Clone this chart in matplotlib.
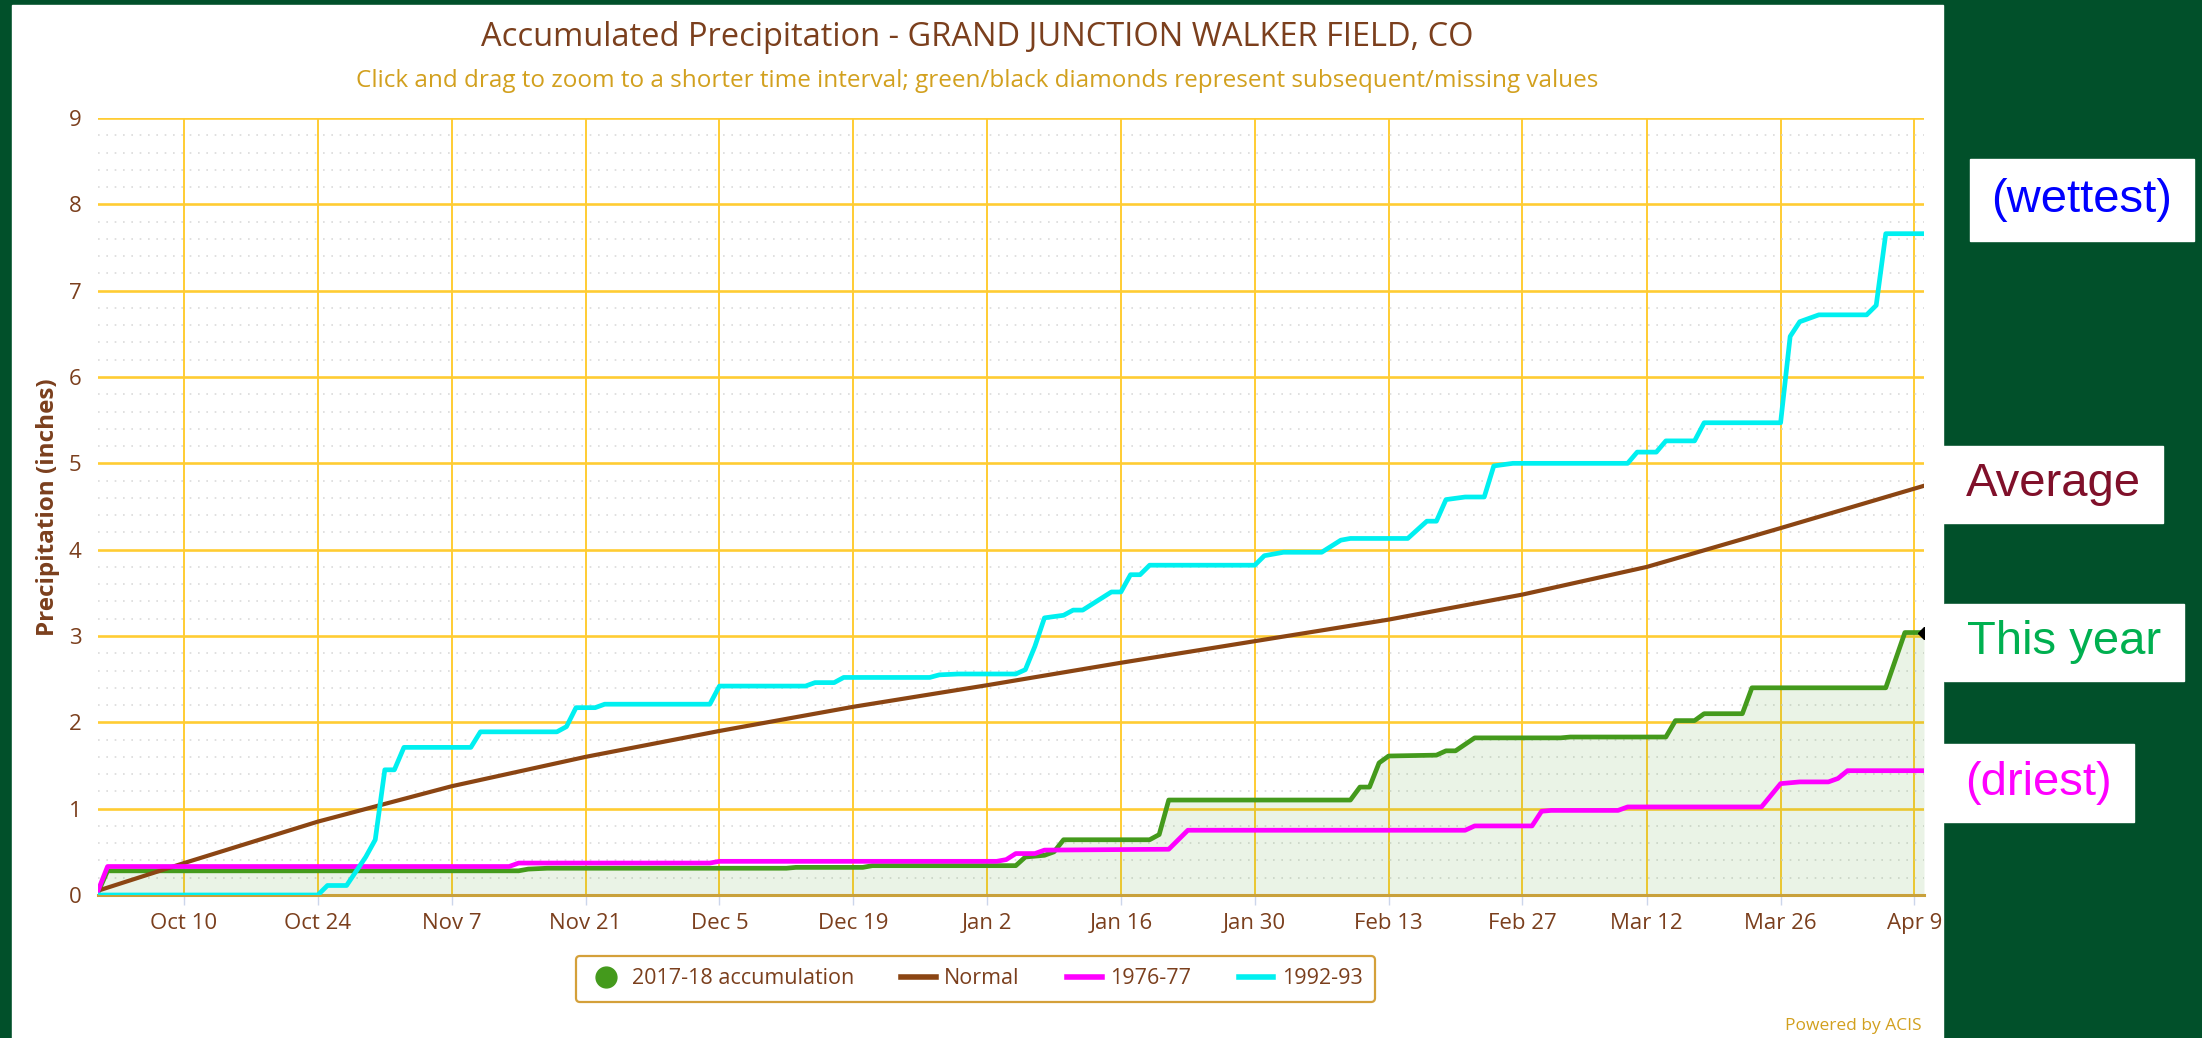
import numpy as np
import matplotlib
matplotlib.use('Agg')
import matplotlib.pyplot as plt
from matplotlib.lines import Line2D
from matplotlib.patches import Rectangle

W, H = 2202, 1038
plt.rcParams['font.family'] = 'Open Sans'

start = np.datetime64('2017-10-01')

tick_dates = ['2017-10-10', '2017-10-24', '2017-11-07', '2017-11-21', '2017-12-05',
              '2017-12-19', '2018-01-02', '2018-01-16', '2018-01-30', '2018-02-13',
              '2018-02-27', '2018-03-12', '2018-03-26', '2018-04-09']
tick_labels = ['Oct 10', 'Oct 24', 'Nov 7', 'Nov 21', 'Dec 5', 'Dec 19', 'Jan 2',
               'Jan 16', 'Jan 30', 'Feb 13', 'Feb 27', 'Mar 12', 'Mar 26', 'Apr 9']

# days after Oct 1 and accumulated precip (inches)
this_days = [0, 1, 44, 45, 47, 72, 73, 80, 81, 96, 97, 98, 99, 100, 101, 110, 111, 112,
             131, 132, 133, 134, 135, 140, 141, 142, 144, 153, 154, 164, 165, 167, 168,
             172, 173, 187, 189, 191]
this_vals = [0.03, 0.28, 0.28, 0.30, 0.31, 0.31, 0.32, 0.32, 0.34, 0.34, 0.44, 0.45, 0.46,
             0.50, 0.64, 0.64, 0.70, 1.10, 1.10, 1.25, 1.25, 1.53, 1.61, 1.62, 1.67, 1.67,
             1.82, 1.82, 1.83, 1.83, 2.02, 2.02, 2.10, 2.10, 2.40, 2.40, 3.04, 3.04]

normal_days = [0, 9, 23, 37, 51, 65, 79, 93, 107, 121, 135, 149, 162, 176, 191]
normal_vals = [0.05, 0.37, 0.85, 1.26, 1.60, 1.90, 2.18, 2.43, 2.69, 2.94, 3.19, 3.48,
               3.80, 4.25, 4.74]

dry_days = [0, 1, 43, 44, 64, 65, 94, 95, 96, 98, 99, 112, 114, 143, 144, 150, 151, 152,
            159, 160, 174, 176, 178, 181, 182, 183, 191]
dry_vals = [0.05, 0.33, 0.33, 0.37, 0.37, 0.39, 0.39, 0.41, 0.48, 0.48, 0.52, 0.53, 0.75,
            0.75, 0.80, 0.80, 0.97, 0.98, 0.98, 1.02, 1.02, 1.29, 1.31, 1.31, 1.35, 1.44, 1.44]

wet_days = [0, 23, 24, 26, 28, 29, 30, 31, 32, 39, 40, 48, 49, 50, 52, 53, 64, 65, 74, 75,
            77, 78, 87, 88, 90, 96, 97, 98, 99, 101, 102, 103, 105, 106, 107, 108, 109, 110,
            121, 122, 124, 128, 130, 131, 137, 139, 140, 141, 143, 145, 146, 148, 160, 161,
            163, 164, 167, 168, 176, 177, 178, 180, 185, 186, 187, 191]
wet_vals = [0, 0, 0.11, 0.11, 0.44, 0.64, 1.45, 1.45, 1.71, 1.71, 1.89, 1.89, 1.95, 2.17,
            2.17, 2.21, 2.21, 2.42, 2.42, 2.46, 2.46, 2.52, 2.52, 2.55, 2.56, 2.56, 2.61, 2.88,
            3.21, 3.24, 3.30, 3.30, 3.44, 3.51, 3.51, 3.71, 3.71, 3.82, 3.82, 3.93, 3.97, 3.97,
            4.11, 4.13, 4.13, 4.33, 4.33, 4.58, 4.61, 4.61, 4.97, 5.00, 5.00, 5.13, 5.13, 5.26,
            5.26, 5.47, 5.47, 6.47, 6.64, 6.72, 6.72, 6.83, 7.66, 7.66]

def to_dates(days):
    return start + np.array(days).astype('timedelta64[D]')

brown = '#7b3f1d'
gold = '#d2a01e'
green = '#449a1c'

fig = plt.figure(figsize=(W / 100, H / 100), dpi=100, facecolor='#01502a')
fig.add_artist(Rectangle((12 / W, 0), (1943 - 12) / W, (H - 5) / H,
                         transform=fig.transFigure, color='white', zorder=-5))

ax = fig.add_axes([98 / W, (H - 895) / H, (1924 - 98) / W, (895 - 118) / H])
ax.set_axisbelow(True)

x_this = to_dates(this_days)
ax.fill_between(x_this, this_vals, 0, color=green, alpha=0.11, lw=0, zorder=1)
ax.plot(x_this, this_vals, color=green, lw=3.4, zorder=3, solid_joinstyle='round')
ax.plot(to_dates(normal_days), normal_vals, color='#8b4513', lw=3.0, zorder=4)
ax.plot(to_dates(dry_days), dry_vals, color='#ff00ff', lw=3.4, zorder=5)
ax.plot(to_dates(wet_days), wet_vals, color='#00f0f0', lw=3.4, zorder=6)
ax.plot(x_this[-1:], this_vals[-1:], marker='D', color='black', ms=6, zorder=7)

ax.set_xlim(start, start + np.timedelta64(191, 'D'))
ax.set_ylim(0, 9)
ax.set_yticks(range(10))
ax.set_yticks(np.arange(0, 9, 0.2), minor=True)
ax.set_xticks(np.array(tick_dates, dtype='datetime64[D]'))
ax.set_xticklabels(tick_labels)

ax.grid(axis='y', which='major', color='#ffcc33', lw=1.9)
ax.grid(axis='y', which='minor', color='#dadada', lw=1.2, ls=(0, (1, 4)))
ax.grid(axis='x', which='major', color='#ffcc33', lw=1.4)

for s in ['top', 'right', 'left']:
    ax.spines[s].set_visible(False)
ax.spines['bottom'].set_color('#c9a13b')
ax.spines['bottom'].set_linewidth(2.2)

ax.tick_params(axis='x', length=7, width=1, color='#ccd6eb', pad=6,
               labelsize=16, labelcolor=brown)
ax.tick_params(axis='y', which='both', length=0, pad=12, labelsize=16, labelcolor=brown)

ax.set_ylabel('Precipitation (inches)', fontsize=17.5, fontweight='bold', color=brown)
ax.yaxis.set_label_coords((60 - 98) / 1826, (895 - 507) / 777)

fig.text(977 / W, 1 - 37 / H, 'Accumulated Precipitation - GRAND JUNCTION WALKER FIELD, CO',
         ha='center', va='center', fontsize=23.5, color=brown)
fig.text(977 / W, 1 - 81 / H,
         'Click and drag to zoom to a shorter time interval; green/black diamonds represent '
         'subsequent/missing values',
         ha='center', va='center', fontsize=17.5, color=gold)
fig.text(1922 / W, 1 - 1026 / H, 'Powered by ACIS', ha='right', va='center',
         fontsize=12.5, color=gold)

handles = [Line2D([], [], color=green, marker='o', ls='none', ms=15),
           Line2D([], [], color='#8b4513', lw=4),
           Line2D([], [], color='#ff00ff', lw=4),
           Line2D([], [], color='#00f0f0', lw=4)]
labels = ['2017-18 accumulation', 'Normal', '1976-77', '1992-93']
leg = fig.legend(handles, labels, loc='center', bbox_to_anchor=(975.5 / W, 1 - 979 / H),
                 ncol=4, fontsize=15.5, frameon=True, fancybox=True, handlelength=1.6,
                 handletextpad=0.4, columnspacing=2.2, borderpad=0.6,
                 edgecolor='#d4a03a', facecolor='white', framealpha=1)
leg.get_frame().set_linewidth(1.6)
for t in leg.get_texts():
    t.set_color(brown)

# side notes
notes = [('(wettest)', '#0000ff', 1970, 159, 2194, 241),
         ('Average', '#80102a', 1943, 446, 2163, 523),
         ('This year', '#00b050', 1944, 604, 2184, 681),
         ('(driest)', '#ff00ff', 1943, 744, 2134, 822)]
for text, col, x0, y0, x1, y1 in notes:
    fig.add_artist(Rectangle((x0 / W, 1 - y1 / H), (x1 - x0) / W, (y1 - y0) / H,
                             transform=fig.transFigure, color='white', zorder=-4))
    fig.text((x0 + x1) / 2 / W, 1 - (y0 + y1) / 2 / H, text, ha='center', va='center',
             fontsize=34, color=col, family='Liberation Sans')

fig.savefig('out.png', dpi=100, facecolor=fig.get_facecolor())
